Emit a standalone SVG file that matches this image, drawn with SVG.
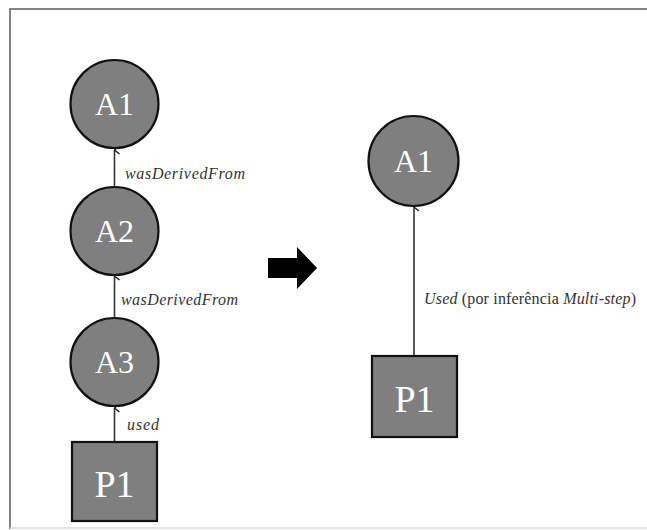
<svg xmlns="http://www.w3.org/2000/svg" width="647" height="530" viewBox="0 0 647 530">
  <defs>
    <marker id="tip" viewBox="0 0 10 10" refX="5" refY="1" markerWidth="10" markerHeight="10" markerUnits="userSpaceOnUse" orient="auto-start-reverse">
      <path d="M1,6 L5,1 L9,6" fill="none" stroke="#1a1a1a" stroke-width="1.4"/>
    </marker>
  </defs>
  <style>
    text { font-family: Liberation Serif, DejaVu Serif, Times New Roman, Times, serif; }
    .ent { fill: #7f7f7f; stroke: #111; stroke-width: 2.2; }
    .lbl { fill: #fff; text-anchor: middle; }
    .edge { stroke: #333; stroke-width: 1.6; fill: none; }
    .rel { fill: #333; font-size: 16px; }
    .it { font-style: italic; }
  </style>

  <rect width="647" height="530" fill="#fff"/>
  <!-- frame -->
  <path d="M10,529 V9 H647" fill="none" stroke="#858585" stroke-width="2"/>
  <line x1="10" y1="528" x2="647" y2="528" stroke="#d8d8d8" stroke-width="1.5"/>

  <!-- connectors -->
  <g id="connectors">
    <line class="edge" x1="114.5" y1="441" x2="114.5" y2="408" marker-end="url(#tip)"/>
    <line class="edge" x1="114.5" y1="317" x2="114.5" y2="276" marker-end="url(#tip)"/>
    <line class="edge" x1="114.5" y1="187" x2="114.5" y2="150" marker-end="url(#tip)"/>
    <line class="edge" x1="414" y1="356" x2="414" y2="207" marker-end="url(#tip)"/>
    <text class="rel it" x="125" y="179" textLength="120" lengthAdjust="spacing">wasDerivedFrom</text>
    <text class="rel it" x="121" y="305" textLength="117" lengthAdjust="spacing">wasDerivedFrom</text>
    <text class="rel it" x="127" y="430" textLength="32" lengthAdjust="spacing">used</text>
    <text class="rel" x="424" y="304" textLength="212" lengthAdjust="spacing"><tspan class="it">Used</tspan> (por inferência <tspan class="it">Multi-step</tspan>)</text>
  </g>

  <!-- left chain -->
  <g id="a1-left">
    <circle class="ent" cx="114.5" cy="104" r="44"/>
    <text class="lbl" x="114.5" y="115" font-size="32">A1</text>
  </g>
  <g id="a2-left">
    <circle class="ent" cx="114.5" cy="231" r="44"/>
    <text class="lbl" x="114.5" y="242" font-size="32">A2</text>
  </g>
  <g id="a3-left">
    <circle class="ent" cx="114.5" cy="362" r="44"/>
    <text class="lbl" x="114.5" y="373" font-size="32">A3</text>
  </g>
  <g id="p1-left">
    <rect class="ent" x="72" y="442" width="85" height="79"/>
    <text class="lbl" x="114.5" y="497" font-size="38">P1</text>
  </g>

  <!-- transformation arrow -->
  <g id="transform-arrow">
    <path d="M268,258 H297 V247 L317,268 L297,289 V278 H268 Z" fill="#000"/>
  </g>

  <!-- right side -->
  <g id="a1-right">
    <circle class="ent" cx="413.5" cy="161" r="45"/>
    <text class="lbl" x="413.5" y="172" font-size="32">A1</text>
  </g>
  <g id="p1-right">
    <rect class="ent" x="372" y="356" width="85" height="81"/>
    <text class="lbl" x="414.5" y="412" font-size="38">P1</text>
  </g>
</svg>
